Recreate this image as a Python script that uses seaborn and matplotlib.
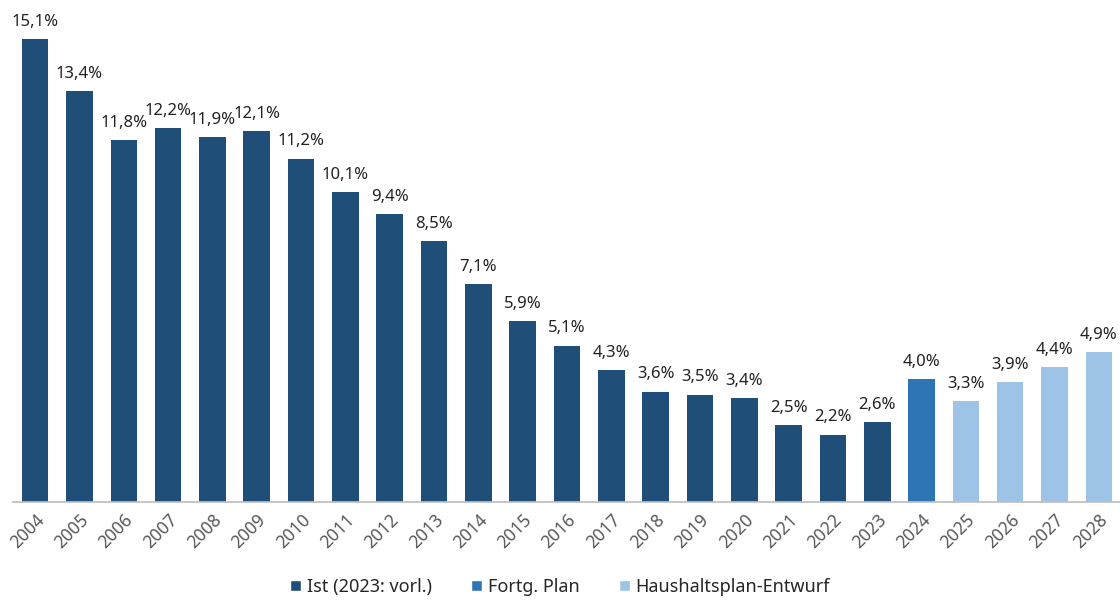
import matplotlib
matplotlib.use("Agg")
import matplotlib.pyplot as plt
import seaborn as sns
import pandas as pd
from matplotlib.patches import Patch

years = [str(y) for y in range(2004, 2029)]
values = [15.1, 13.4, 11.8, 12.2, 11.9, 12.1, 11.2, 10.1, 9.4, 8.5, 7.1, 5.9, 5.1,
          4.3, 3.6, 3.5, 3.4, 2.5, 2.2, 2.6, 4.0, 3.3, 3.9, 4.4, 4.9]
groups = ["Ist (2023: vorl.)"] * 20 + ["Fortg. Plan"] + ["Haushaltsplan-Entwurf"] * 4
group_names = ["Ist (2023: vorl.)", "Fortg. Plan", "Haushaltsplan-Entwurf"]
colors = ["#1f4e79", "#2e75b6", "#9dc3e6"]

df = pd.DataFrame({"year": years, "value": values, "group": groups})

sns.set_theme(style="white")
plt.rcParams['font.family'] = ['Noto Sans', 'DejaVu Sans']

fig = plt.figure(figsize=(11.2, 6.01), dpi=100)
ax = fig.add_axes([13/1120, 1 - 502/601, 1108/1120, 497/601])

sns.barplot(data=df, x="year", y="value", hue="group", hue_order=group_names,
            palette=colors, dodge=False, width=0.6, ax=ax, legend=False,
            saturation=1, linewidth=0)

ax.set_ylim(0, 15.1 * 497 / 463)
ax.set_xlim(-0.5, 24.5)
for i, v in enumerate(values):
    ax.text(i, v + 0.3, f"{v:.1f}".replace(".", ",") + "%", ha="center", va="bottom",
            fontsize=12, color="#222222")

ax.set_xlabel("")
ax.set_ylabel("")
ax.set_yticks([])
for s in ["top", "right", "left"]:
    ax.spines[s].set_visible(False)
ax.spines["bottom"].set_color("#bfbfbf")
ax.tick_params(axis="x", length=0, pad=6)
plt.setp(ax.get_xticklabels(), rotation=45, ha="right", rotation_mode="anchor",
         fontsize=12.5, color="#595959")

handles = [Patch(facecolor=c, label=n) for c, n in zip(colors, group_names)]
fig.legend(handles=handles, loc="center", bbox_to_anchor=(0.5, 1 - 587/601), ncol=3,
           frameon=False, fontsize=13, handlelength=0.6, handleheight=0.6,
           handletextpad=0.3, columnspacing=2.2)

fig.savefig("out.png", dpi=100)
